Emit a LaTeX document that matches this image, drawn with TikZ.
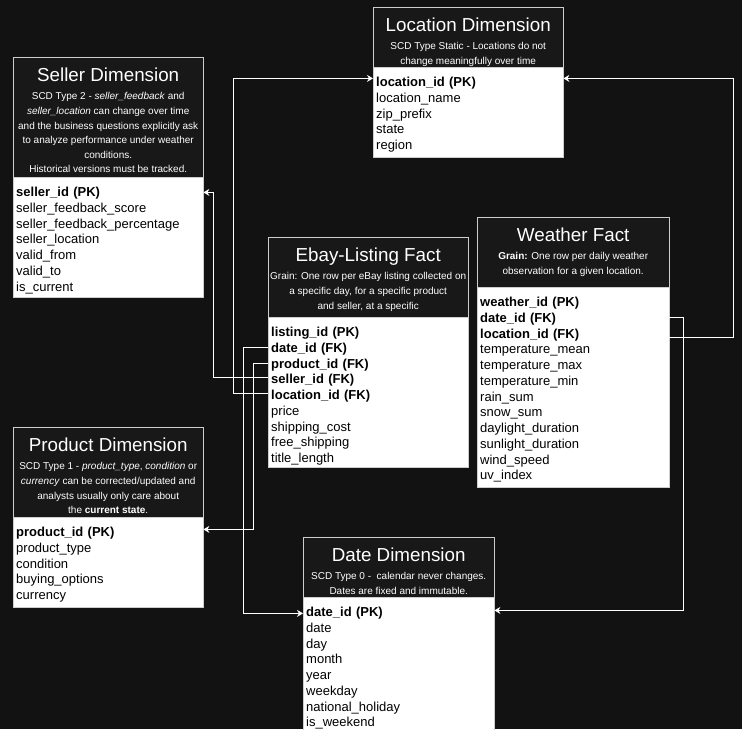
\documentclass[tikz,border=0pt]{standalone}
\usepackage{fontspec}
\setmainfont{Liberation Sans}
\usepackage{tikz}
\usetikzlibrary{positioning}
\usetikzlibrary{arrows.meta}
\definecolor{canvas}{RGB}{18,18,18}
\definecolor{headfill}{RGB}{24,24,24}
\definecolor{edge}{RGB}{205,205,205}

\begin{document}
\begin{tikzpicture}[x=1pt, y=-1pt,
                          headnode/.style={rectangle, draw=edge, fill=headfill, text=white, anchor=north west, align=center, inner sep=0pt, font=\fontsize{10}{14.6}\selectfont},
                          bodynode/.style={rectangle, draw=edge, fill=white, text=black, align=left, inner xsep=3pt, inner ysep=0pt, font=\fontsize{13}{15.75}\selectfont},
                          fkline/.style={draw=white, line width=1pt, -{Stealth[length=6pt, width=7pt, inset=2pt]}},
                      ]
                      \path[use as bounding box, fill=canvas] (0,0) rectangle (742,729);

                      % Nodes
                      \node[headnode, minimum width=190pt, minimum height=120pt] (seller_head) at (13,57)
                          {{\fontsize{18.8}{21}\selectfont\rule{0pt}{24.7pt}Seller Dimension}\\[3.3pt]
                           SCD Type 2 - \textit{seller\_feedback} and\\
                           \textit{seller\_location} can change over time\\
                           and the business questions explicitly ask\\
                           to analyze performance under weather\\
                           conditions.\\
                           Historical versions must be tracked.\rule[-4.4pt]{0pt}{0pt}};
                      \node[bodynode, text width=184pt] (seller_body) [below=0pt of seller_head]
                          {\rule{0pt}{19pt}\textbf{seller\_id (PK)}\\ seller\_feedback\_score\\ seller\_feedback\_percentage\\ seller\_location\\ valid\_from\\ valid\_to\\ is\_current\rule[-6.5pt]{0pt}{0pt}};

                      \node[headnode, minimum width=190pt, minimum height=60pt] (location_head) at (373,7)
                          {{\fontsize{18.8}{21}\selectfont\rule{0pt}{24.7pt}Location Dimension}\\[3.3pt]
                           SCD Type Static - Locations do not\\
                           change meaningfully over time\rule[-2.8pt]{0pt}{0pt}};
                      \node[bodynode, text width=184pt] (location_body) [below=0pt of location_head]
                          {\rule{0pt}{19pt}\textbf{location\_id (PK)}\\ location\_name\\ zip\_prefix\\ state\\ region\rule[-8pt]{0pt}{0pt}};

                      \node[headnode, minimum width=200pt, minimum height=80pt] (ebay_head) at (268,237)
                          {{\fontsize{18.8}{21}\selectfont\rule{0pt}{24.7pt}Ebay-Listing Fact}\\[3.3pt]
                           Grain: One row per eBay listing collected on\\
                           a specific day, for a specific product\\
                           and seller, at a specific\rule[-8.2pt]{0pt}{0pt}};
                      \node[bodynode, text width=194pt] (ebay_body) [below=0pt of ebay_head]
                          {\rule{0pt}{19pt}\textbf{listing\_id (PK)}\\ \textbf{date\_id (FK)}\\ \textbf{product\_id (FK)}\\ \textbf{seller\_id (FK)}\\ \textbf{location\_id (FK)}\\ price\\ shipping\_cost\\ free\_shipping\\ title\_length\rule[-5pt]{0pt}{0pt}};

                      \node[headnode, minimum width=192pt, minimum height=70pt] (weather_head) at (477,217)
                          {{\fontsize{18.8}{21}\selectfont\rule{0pt}{24.7pt}Weather Fact}\\[3.3pt]
                           \textbf{Grain:} One row per daily weather\\
                           observation for a given location.\rule[-12.8pt]{0pt}{0pt}};
                      \node[bodynode, text width=186pt] (weather_body) [below=0pt of weather_head]
                          {\rule{0pt}{19pt}\textbf{weather\_id (PK)}\\ \textbf{date\_id (FK)}\\ \textbf{location\_id (FK)}\\ temperature\_mean\\ temperature\_max\\ temperature\_min\\ rain\_sum\\ snow\_sum\\ daylight\_duration\\ sunlight\_duration\\ wind\_speed\\ uv\_index\rule[-7.75pt]{0pt}{0pt}};

                      \node[headnode, minimum width=190pt, minimum height=90pt] (product_head) at (13,427)
                          {{\fontsize{18.8}{21}\selectfont\rule{0pt}{24.7pt}Product Dimension}\\[3.3pt]
                           SCD Type 1 - \textit{product\_type}, \textit{condition} or\\
                           \textit{currency} can be corrected/updated and\\
                           analysts usually only care about\\
                           the \textbf{current state}.\rule[-3.6pt]{0pt}{0pt}};
                      \node[bodynode, text width=184pt] (product_body) [below=0pt of product_head]
                          {\rule{0pt}{19pt}\textbf{product\_id (PK)}\\ product\_type\\ condition\\ buying\_options\\ currency\rule[-8pt]{0pt}{0pt}};

                      \node[headnode, minimum width=191pt, minimum height=60pt] (date_head) at (303,537)
                          {{\fontsize{18.8}{21}\selectfont\rule{0pt}{24.7pt}Date Dimension}\\[3.3pt]
                           SCD Type 0 -\ \ calendar never changes.\\
                           Dates are fixed and immutable.\rule[-2.8pt]{0pt}{0pt}};
                      \node[bodynode, text width=185pt] (date_body) [below=0pt of date_head]
                          {\rule{0pt}{19pt}\textbf{date\_id (PK)}\\ date\\ day\\ month\\ year\\ weekday\\ national\_holiday\\ is\_weekend\rule[-8pt]{0pt}{0pt}};

                      %Lines
                      \draw[fkline] ([yshift=-60pt]ebay_body.north west) -- ++(-55,0) |- ([yshift=-15pt]seller_body.north east);
                      \draw[fkline] ([yshift=-76pt]ebay_body.north west) -- ++(-35,0) |- ([yshift=-11pt]location_body.north west);
                      \draw[fkline] ([yshift=-30pt]ebay_body.north west) -- ++(-25,0) |- ([yshift=-16pt]date_body.north west);
                      \draw[fkline] ([yshift=-46pt]ebay_body.north west) -- ++(-15,0) |- ([yshift=-12pt]product_body.north east);
                      \draw[fkline] ([yshift=-50pt]weather_body.north east) -- ++(64,0) |- ([yshift=-11pt]location_body.north east);
                      \draw[fkline] ([yshift=-30pt]weather_body.north east) -- ++(14,0) |- ([yshift=-13pt]date_body.north east);
                  \end{tikzpicture}
\end{document}
